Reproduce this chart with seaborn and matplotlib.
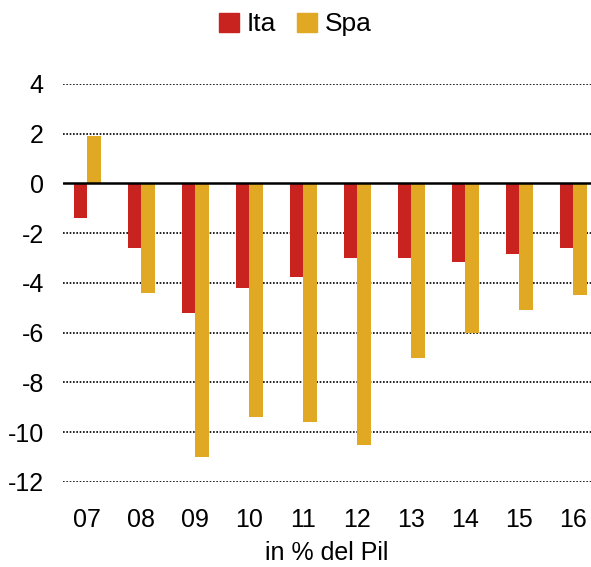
import matplotlib
matplotlib.use("Agg")
import matplotlib.pyplot as plt
import seaborn as sns
import pandas as pd
from matplotlib.patches import Patch

years = ["07", "08", "09", "10", "11", "12", "13", "14", "15", "16"]
ita = [-1.4, -2.6, -5.2, -4.2, -3.75, -3.0, -3.0, -3.15, -2.85, -2.6]
spa = [1.9, -4.4, -11.0, -9.4, -9.6, -10.5, -7.0, -6.0, -5.1, -4.5]
series = ["Ita", "Spa"]
colors = ["#C8231E", "#E0A823"]
yticks = [4, 2, 0, -2, -4, -6, -8, -10, -12]

df = pd.DataFrame({
    "year": years * 2,
    "value": ita + spa,
    "series": ["Ita"] * len(years) + ["Spa"] * len(years),
})

sns.set_style("white")
plt.rcParams["font.family"] = ["Liberation Sans", "DejaVu Sans"]
plt.rcParams["text.color"] = "black"
plt.rcParams["xtick.color"] = "black"
plt.rcParams["ytick.color"] = "black"
plt.rcParams["axes.labelcolor"] = "black"

fig = plt.figure(figsize=(5.91, 5.67), dpi=100)
ax = fig.add_axes([0.107, 0.150, 0.893, 0.702])

sns.barplot(data=df, x="year", y="value", hue="series", order=years,
            hue_order=series, palette=colors, width=0.5, gap=0,
            saturation=1, ax=ax, legend=False, linewidth=0)

for t in yticks:
    if t == 0:
        continue
    ax.axhline(t, color="black", linestyle=(0, (1, 1)), linewidth=1.2, zorder=0)
ax.axhline(0, color="black", linewidth=1.8, zorder=3)

ax.set_ylim(-12, 4)
ax.set_xlim(-0.44, 9.33)
ax.set_yticks(yticks)
ax.set_yticklabels([str(t) for t in yticks])
for s in ax.spines.values():
    s.set_visible(False)
ax.tick_params(axis="both", length=0, labelsize=18, colors="black")
ax.tick_params(axis="y", pad=14)
ax.tick_params(axis="x", pad=19)
ax.set_ylabel("")
ax.set_xlabel("in % del Pil", fontsize=18, labelpad=6)

handles = [Patch(color=c, label=s) for c, s in zip(colors, series)]
fig.legend(handles=handles, loc="upper center", bbox_to_anchor=(0.5, 1.02),
           ncol=2, frameon=False, fontsize=19, handlelength=0.75,
           handleheight=0.75, handletextpad=0.3, columnspacing=0.8)

fig.savefig("out.png", dpi=100)
